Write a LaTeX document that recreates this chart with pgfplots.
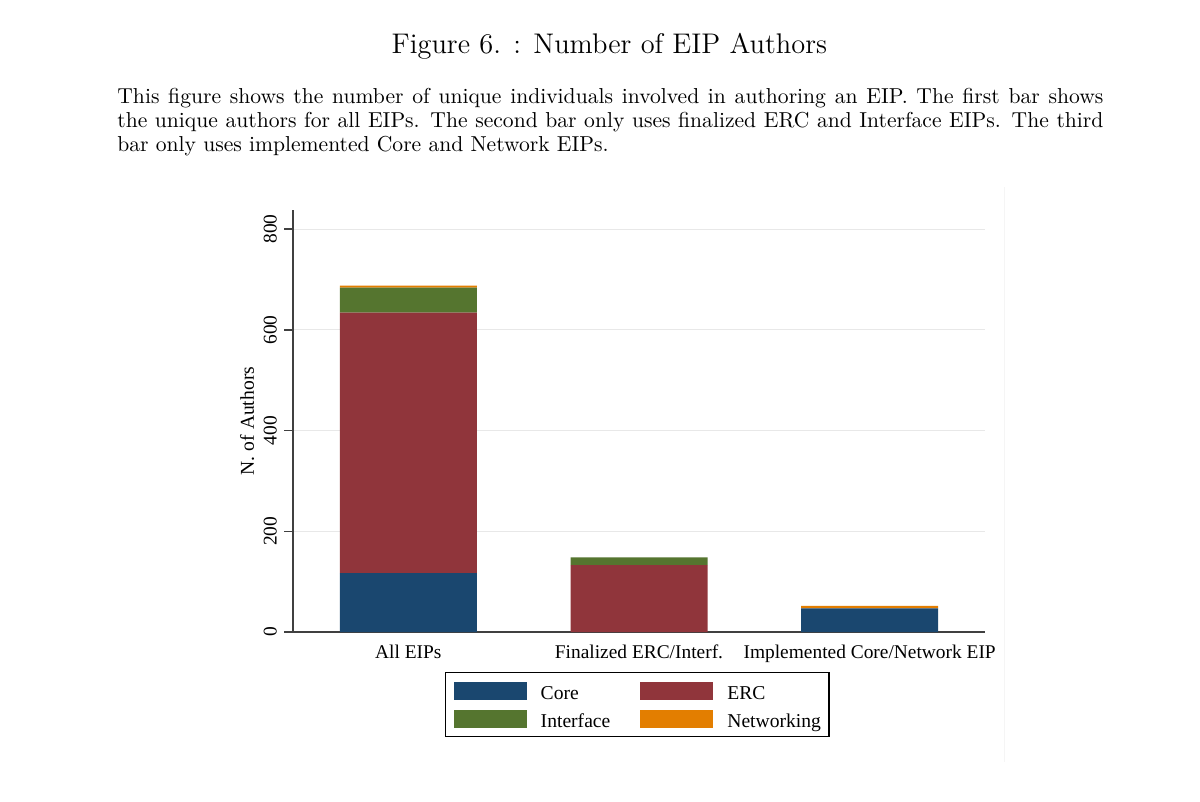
\documentclass[border=0pt]{standalone}
\usepackage{fontspec}
\usepackage{pgfplots}
\pgfplotsset{compat=1.18}
\newfontfamily\tnr{Liberation Serif}
\definecolor{score}{HTML}{1A476F}
\definecolor{serc}{HTML}{90353B}
\definecolor{sint}{HTML}{55752F}
\definecolor{snet}{HTML}{E37E00}
\begin{document}
\begin{tikzpicture}
\path[use as bounding box] (0,0) rectangle (600pt,-401pt);
\node[anchor=base, inner sep=0pt] at (304.7pt,-26.65pt) {\fontsize{14.2}{17}\selectfont Figure 6. : Number of EIP Authors};
\node[anchor=base west, inner sep=0pt] at (58.5pt,-51.65pt) {\fontsize{10.8}{13}\selectfont\makebox[493pt][s]{This figure shows the number of unique individuals involved in authoring an EIP. The first bar shows}};
\node[anchor=base west, inner sep=0pt] at (58.5pt,-63.65pt) {\fontsize{10.8}{13}\selectfont\makebox[493pt][s]{the unique authors for all EIPs. The second bar only uses finalized ERC and Interface EIPs. The third}};
\node[anchor=base west, inner sep=0pt] at (58.5pt,-75.85pt) {\fontsize{10.8}{13}\selectfont bar only uses implemented Core and Network EIPs.};
\draw[black!4, line width=0.5pt] (502pt,-93.5pt) -- (502pt,-381pt);
\begin{axis}[
  at={(146.5pt,-316pt)}, anchor=south west,
  scale only axis, width=346pt, height=211pt,
  xmin=-0.5, xmax=2.5, ymin=0, ymax=838,
  axis x line=bottom, axis y line=left,
  axis line style={-, draw=black!75, line width=0.75pt},
  ybar stacked, bar width=68.5pt,
  xtick={0,1,2},
  xticklabels={All EIPs, Finalized ERC/Interf., Implemented Core/Network EIP},
  x tick style={draw=none},
  ytick={0,200,400,600,800},
  tick align=outside, major tick length=4.5pt,
  y tick style={draw=black!75, line width=0.75pt},
  ymajorgrids, grid style={draw=black!9, line width=0.6pt},
  /pgf/number format/assume math mode=true,
  tick label style={font=\tnr\fontsize{9.7}{11}\selectfont},
  yticklabel style={rotate=90, anchor=south},
  xticklabel style={yshift=1.5pt},
  ylabel={N. of Authors},
  ylabel style={font=\tnr\fontsize{9.8}{11}\selectfont, at={(axis description cs:-0.046,0.5)}, anchor=south},
  legend columns=2,
  legend image code/.code={\fill[#1,draw=none] (0pt,0pt) rectangle (36.5pt,9pt);},
  legend style={at={(axis description cs:0.2197,-0.0948)}, anchor=north west,
    draw=black, line width=0.7pt, inner xsep=4pt, inner ysep=4.5pt,
    font=\tnr\fontsize{9.8}{11}\selectfont,
    nodes={inner sep=0pt, text depth=0pt, anchor=base west},
    row sep=5pt,
    /tikz/every odd column/.append style={column sep=7pt},
    /tikz/every even column/.append style={column sep=15pt}},
  legend cell align=left,
]
\addplot[fill=score, draw=none] coordinates {(0,117) (1,0) (2,47)};
\addplot[fill=serc, draw=none] coordinates {(0,517) (1,133) (2,0)};
\addplot[fill=sint, draw=none] coordinates {(0,50) (1,15) (2,0)};
\addplot[fill=snet, draw=none] coordinates {(0,4) (1,0) (2,5)};
\legend{Core, ERC, Interface, Networking}
\end{axis}
\end{tikzpicture}
\end{document}
